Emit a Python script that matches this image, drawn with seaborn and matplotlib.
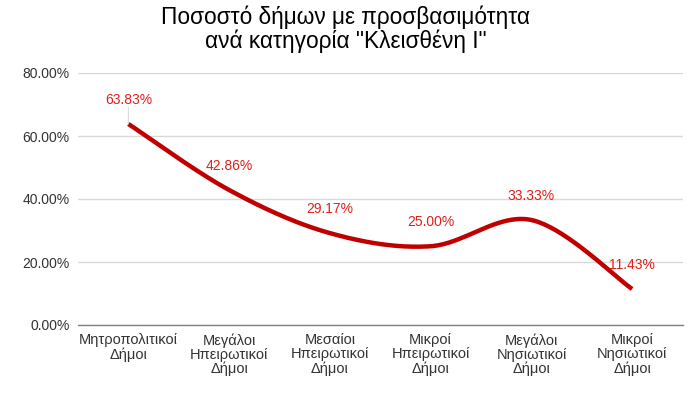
import numpy as np
import pandas as pd
import matplotlib
matplotlib.use("Agg")
import matplotlib.pyplot as plt
import seaborn as sns

categories = ["Μητροπολιτικοί\nΔήμοι", "Μεγάλοι\nΗπειρωτικοί\nΔήμοι", "Μεσαίοι\nΗπειρωτικοί\nΔήμοι",
              "Μικροί\nΗπειρωτικοί\nΔήμοι", "Μεγάλοι\nΝησιωτικοί\nΔήμοι", "Μικροί\nΝησιωτικοί\nΔήμοι"]
values = [63.83, 42.86, 29.17, 25.00, 33.33, 11.43]
value_labels = ["63.83%", "42.86%", "29.17%", "25.00%", "33.33%", "11.43%"]
y_ticks = [0, 20, 40, 60, 80]
y_tick_labels = ["0.00%", "20.00%", "40.00%", "60.00%", "80.00%"]
title = 'Ποσοστό δήμων με προσβασιμότητα\nανά κατηγορία "Κλεισθένη Ι"'

sns.set_theme(style="white")
plt.rcParams['font.family'] = ['Liberation Sans', 'DejaVu Sans']

fig = plt.figure(figsize=(6.95, 3.93), dpi=100)
ax = fig.add_axes([78/695, 68/393, 604.5/695, 252/393])

# Smoothed curve (Catmull-Rom / Excel-style bezier) through the data points
x = np.arange(len(values), dtype=float)
y = np.array(values, dtype=float)
px = np.concatenate([[x[0]], x, [x[-1]]])
py = np.concatenate([[y[0]], y, [y[-1]]])
xs, ys = [], []
t = np.linspace(0, 1, 40)
for i in range(1, len(px) - 2):
    p0 = np.array([px[i-1], py[i-1]]); p1 = np.array([px[i], py[i]])
    p2 = np.array([px[i+1], py[i+1]]); p3 = np.array([px[i+2], py[i+2]])
    c1 = p1 + (p2 - p0) / 6
    c2 = p2 - (p3 - p1) / 6
    for tt in t:
        b = ((1-tt)**3)*p1 + 3*((1-tt)**2)*tt*c1 + 3*(1-tt)*tt**2*c2 + tt**3*p2
        xs.append(b[0]); ys.append(b[1])
curve = pd.DataFrame({"x": xs, "y": ys})
sns.lineplot(data=curve, x="x", y="y", ax=ax, color="#C00000", linewidth=3.2, sort=False,
             solid_capstyle="butt", zorder=3)

ax.set_xlim(-0.5, len(values) - 0.5)
ax.set_ylim(0, 80)
ax.set_yticks(y_ticks)
ax.set_yticklabels(y_tick_labels, fontsize=10, color="#333333")
ax.set_xticks(x)
ax.set_xticklabels(categories, fontsize=10.5, color="#333333", linespacing=1.0)
ax.tick_params(axis="both", length=0, pad=6)
ax.yaxis.grid(True, color="#D9D9D9", linewidth=1)
ax.set_axisbelow(True)
for s in ["top", "right", "left"]:
    ax.spines[s].set_visible(False)
ax.spines["bottom"].set_color("#808080")
ax.spines["bottom"].set_linewidth(1)
ax.set_xlabel("")
ax.set_ylabel("")

for xi, v, lab in zip(x, values, value_labels):
    ax.annotate(lab, (xi, v), xytext=(0, 17.5), textcoords="offset points",
                ha="center", va="center", fontsize=10, color="#E0201A", zorder=4)
# leader line for first label
ax.annotate("", (x[0], values[0]), xytext=(0, 12), textcoords="offset points",
            arrowprops=dict(arrowstyle="-", color="#D9D9D9", lw=0.8, shrinkA=0, shrinkB=0))

fig.text(0.497, 0.985, title, ha="center", va="top", fontsize=16.3, color="black", linespacing=1.0)

fig.savefig("out.png", dpi=100)
